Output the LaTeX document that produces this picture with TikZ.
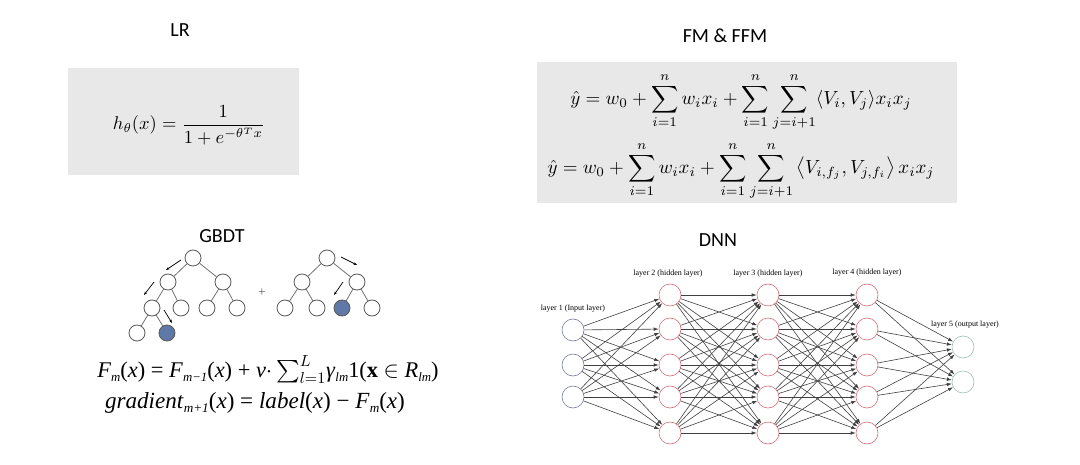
\documentclass[tikz,border=0pt]{standalone}
\usepackage{amsmath, amssymb}
\usepackage{fontspec}
\newfontfamily\titlefont{Carlito}
\newfontfamily\layerfont{Liberation Serif}
\usepackage{xcolor}
\usepackage{tikz}
\usetikzlibrary{arrows.meta}
\definecolor{boxgray}{RGB}{232,232,232}
\definecolor{leafblue}{RGB}{94,121,167}
\definecolor{inblue}{RGB}{120,125,160}
\definecolor{hidred}{RGB}{214,110,122}
\definecolor{outgreen}{RGB}{160,192,176}
\newcommand{\gbfont}{\layerfont\fontsize{14}{16}\selectfont}
\newcommand{\lsub}[1]{\raisebox{-0.35ex}{\fontsize{8}{8}\selectfont\itshape #1}}

\begin{document}
\begin{tikzpicture}[x=1pt, y=-1pt,
	title/.style={font=\titlefont\fontsize{20}{24}\selectfont},
	formbox/.style={fill=boxgray},
	formula/.style={inner sep=0pt},
	tnode/.style={circle, draw=black!65, fill=white, minimum size=16pt, inner sep=0pt, line width=0.8pt},
	tleaf/.style={tnode, fill=leafblue},
	tedge/.style={draw=black!55, line width=0.8pt},
	tarrow/.style={-{Stealth[length=3.5pt]}, line width=0.7pt},
	nnode/.style={circle, minimum size=22pt, inner sep=0pt, fill=white, line width=0.6pt},
	nedge/.style={draw=black!75, line width=0.6pt, -{Latex[length=5pt, width=3.5pt]}},
	layer/.style={font=\layerfont\fontsize{8}{9}\selectfont}]
	\useasboundingbox (0,0) rectangle (1080,465);

	% LR
	\node[title] (lrt) at (180,30) {LR};
	\fill[formbox] (68,68) rectangle (299,175);
	\node[formula, scale=1.85] (lrf) at (189,125) {$h_\theta(x) = \dfrac{1}{1+e^{-\theta^T x}}$};

	% FM & FFM
	\node[title] (fmt) at (725,36) {FM \& FFM};
	\fill[formbox] (537,62) rectangle (957,203);
	\node[formula, scale=1.9] (fm) at (741,102) {$\displaystyle \hat{y} = w_0 + \sum_{i=1}^{n} w_i x_i + \sum_{i=1}^{n}\sum_{j=i+1}^{n} \langle V_i, V_j\rangle x_i x_j$};
	\node[formula, scale=1.9] (ffm) at (741,171) {$\displaystyle \hat{y} = w_0 + \sum_{i=1}^{n} w_i x_i + \sum_{i=1}^{n}\sum_{j=i+1}^{n} \left\langle V_{i,f_j}, V_{j,f_i}\right\rangle x_i x_j$};

	% GBDT
	\node[title] (gbt) at (222,236) {GBDT};
	\node[tnode] (r) at (193,258) {};
	\node[tnode] (a) at (168,282) {};
	\node[tnode] (b) at (223,282) {};
	\node[tnode] (aa) at (152,308) {};
	\node[tnode] (ab) at (181,308) {};
	\node[tnode] (ba) at (207,308) {};
	\node[tnode] (bb) at (237,308) {};
	\node[tnode] (aaa) at (137,333) {};
	\node[tleaf] (aab) at (167,333) {};
	\draw[tedge] (r) -- (a) (r) -- (b) (a) -- (aa) (a) -- (ab) (b) -- (ba) (b) -- (bb) (aa) -- (aaa) (aa) -- (aab);
	\node (plus) at (262,292) {$+$};
	\node[tnode] (r2) at (327,258) {};
	\node[tnode] (a2) at (302,282) {};
	\node[tnode] (b2) at (357,282) {};
	\node[tnode] (aa2) at (285,308) {};
	\node[tnode] (ab2) at (317,308) {};
	\node[tleaf] (ba2) at (342,308) {};
	\node[tnode] (bb2) at (372,308) {};
	\draw[tedge] (r2) -- (a2) (r2) -- (b2) (a2) -- (aa2) (a2) -- (ab2) (b2) -- (ba2) (b2) -- (bb2);
	\coordinate (p1) at (181,260); \coordinate (q1) at (166,270);
	\coordinate (p2) at (154,282); \coordinate (q2) at (144,295);
	\coordinate (p3) at (164,310); \coordinate (q3) at (172,323);
	\coordinate (p4) at (341,257); \coordinate (q4) at (357,265);
	\coordinate (p5) at (343,282); \coordinate (q5) at (334,295);
	\foreach \k in {1,...,5} \draw[tarrow] (p\k) -- (q\k);
	\node[formula, scale=1.6, font=\gbfont] (gbf) at (268,370) {\textit{F}\lsub{m}(\textit{x}) = \textit{F}\lsub{m−1}(\textit{x}) + \textit{ν}$\cdot\sum_{l=1}^{L}$\textit{γ}\lsub{lm}1(\textbf{x} $\in$ \textit{R}\lsub{lm})};
	\node[formula, scale=1.65, font=\gbfont] (grf) at (255,403) {\textit{gradient}\lsub{m+1}(\textit{x}) = \textit{label}(\textit{x}) − \textit{F}\lsub{m}(\textit{x})};

	% DNN
	\node[title] (dnt) at (718,240) {DNN};
	\foreach \i/\y in {1/330,2/365,3/397}
		\node[nnode, draw=inblue] (n1\i) at (573,\y) {};
	\foreach \l/\x in {2/670,3/768,4/867}
		\foreach \i/\y in {1/295,2/329,3/365,4/397,5/433}
			\node[nnode, draw=hidred] (n\l\i) at (\x,\y) {};
	\foreach \i/\y in {1/347,2/382}
		\node[nnode, draw=outgreen] (n5\i) at (963,\y) {};
	\foreach \i in {1,2,3}
		\foreach \j in {1,...,5} \draw[nedge] (n1\i) -- (n2\j);
	\foreach \i in {1,...,5}
		\foreach \j in {1,...,5} {
			\draw[nedge] (n2\i) -- (n3\j);
			\draw[nedge] (n3\i) -- (n4\j);
		}
	\foreach \i in {1,...,5}
		\foreach \j in {1,2} \draw[nedge] (n4\i) -- (n5\j);
	\node[layer] (l1) at (573,309) {layer 1 (Input layer)};
	\node[layer] (l2) at (668,274) {layer 2 (hidden layer)};
	\node[layer] (l3) at (768,274) {layer 3 (hidden layer)};
	\node[layer] (l4) at (867,273) {layer 4 (hidden layer)};
	\node[layer] (l5) at (965,325) {layer 5 (output layer)};
\end{tikzpicture}
\end{document}
